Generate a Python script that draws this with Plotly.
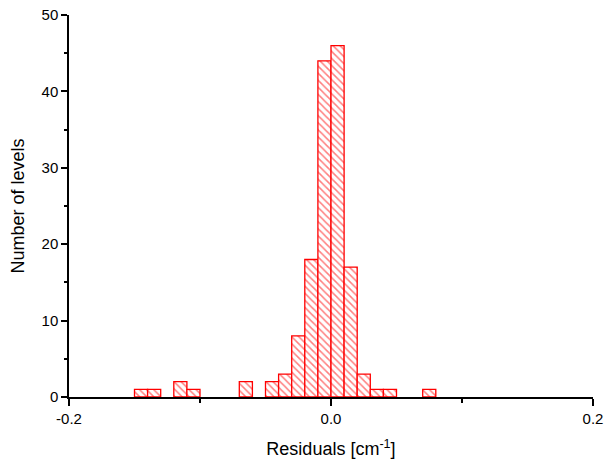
import plotly.graph_objects as go

bin_left = [-0.15, -0.14, -0.12, -0.11, -0.07, -0.05, -0.04, -0.03, -0.02, -0.01,
            0.00, 0.01, 0.02, 0.03, 0.04, 0.07]
counts = [1, 1, 2, 1, 2, 2, 3, 8, 18, 44, 46, 17, 3, 1, 1, 1]
bin_width = 0.01
centers = [b + bin_width / 2 for b in bin_left]
x_tick_vals = [-0.2, 0.0, 0.2]
x_tick_text = ["-0.2", "0.0", "0.2"]

fig = go.Figure()
fig.add_trace(go.Bar(
    x=centers, y=counts, width=bin_width,
    marker=dict(
        color="white",
        line=dict(color="#ff0000", width=1.3),
        pattern=dict(shape="\\", fgcolor="#ff0000", bgcolor="white", size=5, solidity=0.3),
    ),
))

font = "Liberation Sans, Arial, sans-serif"
fig.update_layout(
    width=605, height=460,
    margin=dict(l=69, r=12, t=15, b=63, autoexpand=False),
    paper_bgcolor="white", plot_bgcolor="white",
    showlegend=False,
    font=dict(family=font, size=15, color="black"),
    xaxis=dict(
        range=[-0.2, 0.2], tickvals=x_tick_vals, ticktext=x_tick_text,
        showgrid=False, zeroline=False, automargin=False,
        showline=True, linecolor="black", linewidth=1.5,
        ticks="outside", ticklen=7, tickwidth=1.5, tickcolor="black",
        minor=dict(ticks="outside", tickvals=[-0.1, 0.1], ticklen=4, tickwidth=1.5, tickcolor="black", showgrid=False),
        title=dict(text="Residuals [cm<sup>-1</sup>]", font=dict(size=18), standoff=17),
    ),
    yaxis=dict(
        range=[0, 50], tick0=0, dtick=10,
        showgrid=False, zeroline=False, automargin=False,
        showline=True, linecolor="black", linewidth=1.5,
        ticks="outside", ticklen=6, tickwidth=1.5, tickcolor="black",
        minor=dict(ticks="outside", dtick=5, ticklen=3, tickwidth=1.5, tickcolor="black", showgrid=False),
        title=dict(text="Number of levels", font=dict(size=18), standoff=12),
    ),
)
fig.write_html("out.html")
